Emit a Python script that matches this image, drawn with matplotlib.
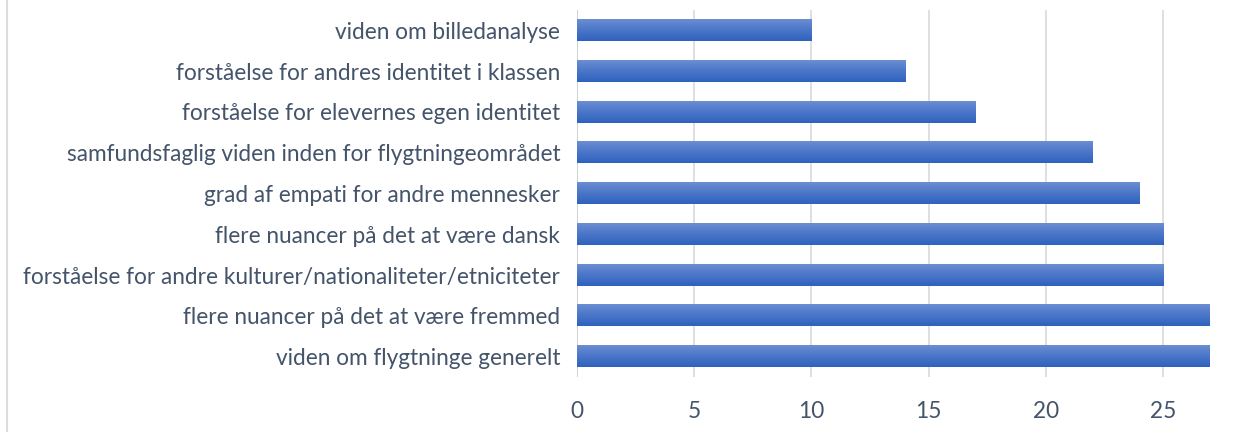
import numpy as np
import matplotlib
matplotlib.use("Agg")
import matplotlib.pyplot as plt
from matplotlib.colors import LinearSegmentedColormap
from matplotlib.lines import Line2D

# categories listed bottom to top
categories = [
    "viden om flygtninge generelt",
    "flere nuancer på det at være fremmed",
    "forståelse for andre kulturer/nationaliteter/etniciteter",
    "flere nuancer på det at være dansk",
    "grad af empati for andre mennesker",
    "samfundsfaglig viden inden for flygtningeområdet",
    "forståelse for elevernes egen identitet",
    "forståelse for andres identitet i klassen",
    "viden om billedanalyse",
]
values = [27, 27, 25, 25, 24, 22, 17, 14, 10]
xticks = [0, 5, 10, 15, 20, 25]

plt.rcParams['font.family'] = ['Lato', 'DejaVu Sans']
text_color = "#44546A"

fig = plt.figure(figsize=(12.44, 4.32), dpi=100)
ax = fig.add_axes([577 / 1244, 55 / 432, 633 / 1244, 367 / 432])

y = np.arange(len(categories))
bar_h = 0.52
bars = ax.barh(y, values, height=bar_h, color="none", edgecolor="none", zorder=2)

# vertical gradient like the Excel fill
cmap = LinearSegmentedColormap.from_list("blues", ["#2E62BE", "#4A76C8", "#6C8DD2"])
grad = np.linspace(0, 1, 64).reshape(-1, 1)
for b in bars:
    x0, y0 = b.get_x(), b.get_y()
    w, h = b.get_width(), b.get_height()
    ax.imshow(grad, cmap=cmap, aspect="auto", origin="lower",
              extent=[x0, x0 + w, y0, y0 + h], zorder=2)

ax.set_xlim(0, 27)
ax.set_ylim(-0.5, len(categories) - 0.5)
ax.set_xticks(xticks)
ax.set_yticks(y)
ax.set_yticklabels(categories)
ax.grid(axis="x", color="#D9D9D9", linewidth=1.2, zorder=0)
ax.set_axisbelow(True)
for s in ax.spines.values():
    s.set_visible(False)
ax.axvline(0, color="#D0D3D8", linewidth=1.5, zorder=1)
ax.tick_params(axis="both", length=0, labelsize=16.3, colors=text_color, pad=12)
ax.tick_params(axis="x", pad=17)

# left border fragment of the chart frame
fig.add_artist(Line2D([7 / 1244, 7 / 1244], [0, 1], color="#D9DCE1", linewidth=1.5))

fig.savefig("out.png", dpi=100)
